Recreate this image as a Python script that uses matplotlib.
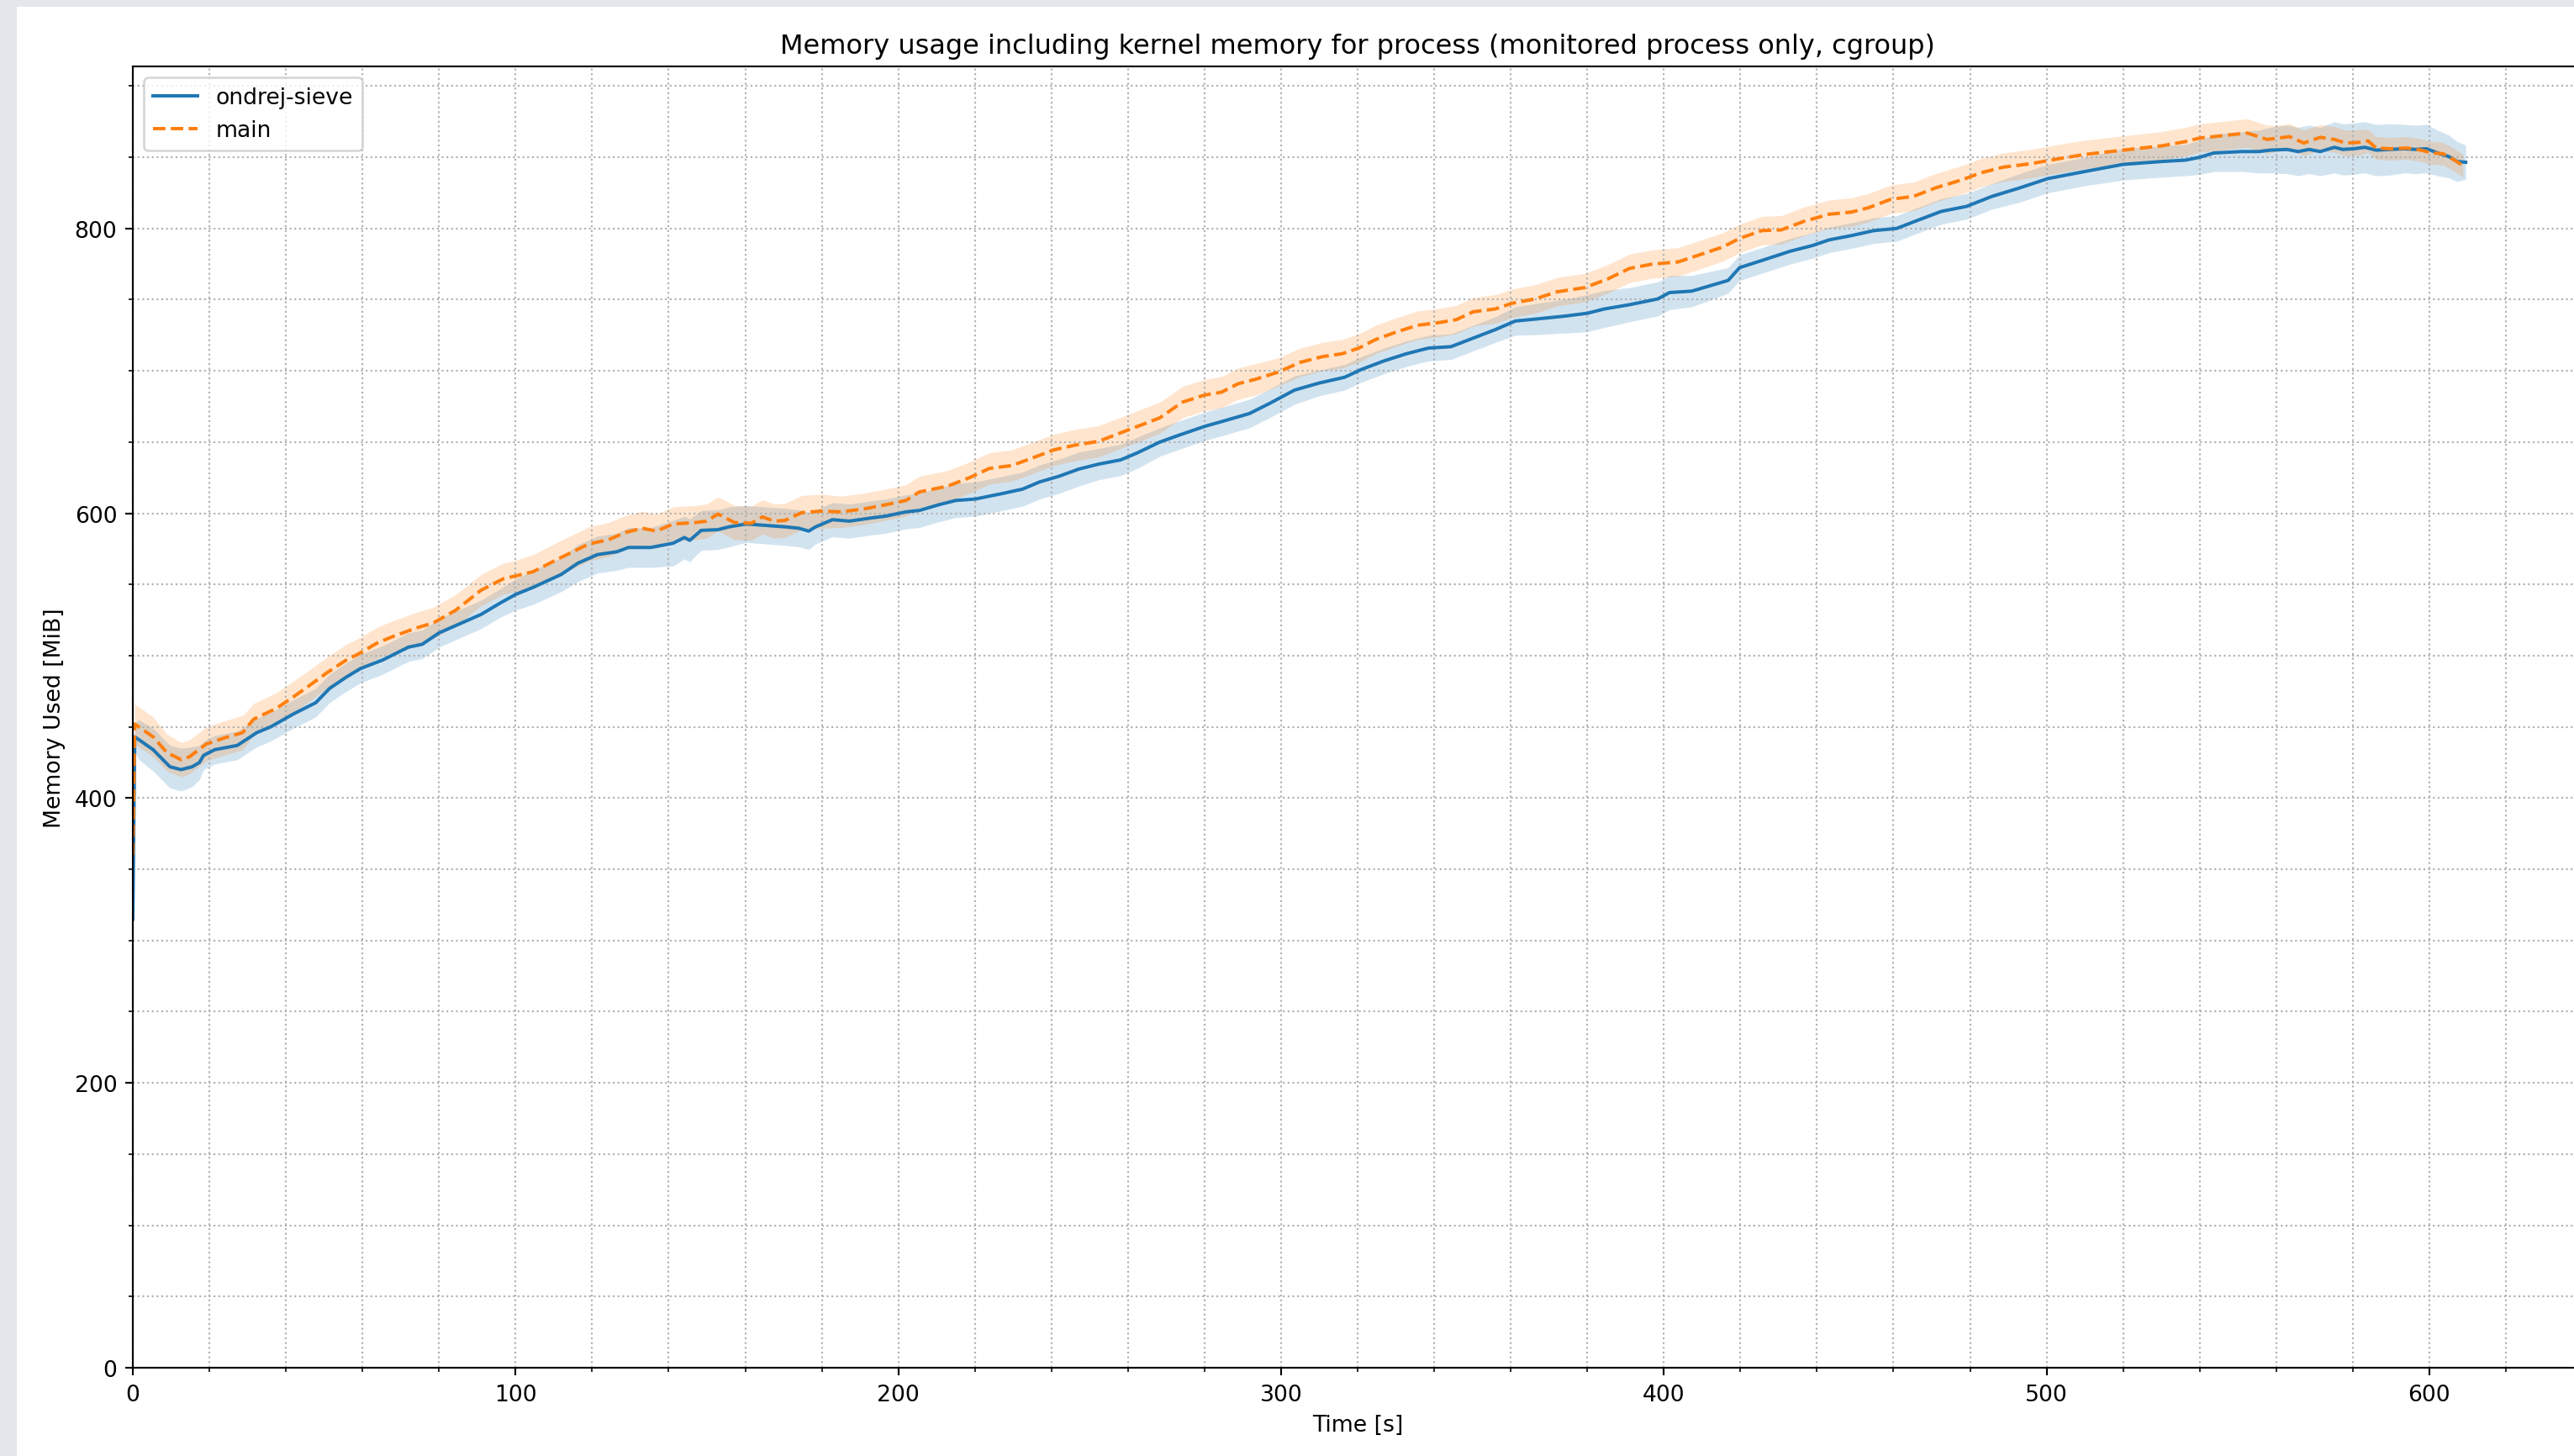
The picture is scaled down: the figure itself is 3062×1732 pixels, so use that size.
import matplotlib.pyplot as plt
from matplotlib.patches import Rectangle

# ondrej-sieve (mean and half width of the shaded band)
sieve_t = [0, 0.5, 1.6, 5.3, 9.7, 12.6, 15.5, 17.4, 18.5, 21.4,
           27.3, 32.4, 36, 41.9, 47.8, 51.4, 55.8, 59.5, 65.3, 72,
           75.6, 80, 85.9, 91, 96, 100, 104.6, 111.9, 116.3, 121.4,
           126.5, 129.5, 135.3, 141.2, 144.1, 145.5, 148.5, 152.9, 155.8, 160.2,
           165.3, 170.4, 174, 176.6, 178.4, 182.8, 187.2, 192.3, 196.7, 202,
           205.5, 210.6, 215, 220.1, 227.4, 232.5, 236.9, 242, 247.1, 252.3,
           258.1, 262.5, 268.3, 273.5, 280, 285.9, 291.7, 296.9, 303.5, 310,
           316.6, 321, 326.9, 332.7, 338.5, 344.4, 350.2, 356, 361.2, 367,
           374.3, 380.1, 384.5, 391.1, 398.4, 401.5, 407.3, 412.4, 416.8, 419.8,
           425.6, 433, 438.8, 443.2, 449, 454.9, 460.8, 466.6, 472.5, 479.1,
           485.7, 493, 500.3, 510, 520, 530, 536.3, 540, 543.7, 551,
           555.4, 558.4, 562.8, 565.7, 568.6, 571.5, 575.2, 577.4, 580.3, 583.2,
           586.1, 589.8, 593.4, 596.4, 599.3, 602.2, 605.1, 607.3, 609.5]
sieve_mem = [315, 443, 441, 434, 422, 420, 422, 425, 430, 434,
             437, 446, 450, 459, 467, 477, 485, 491, 497, 506,
             508, 516, 523, 529, 537, 543, 548, 557, 565, 571,
             573, 576, 576, 579, 583, 581, 588, 588.5, 590.5, 592.5,
             591.5, 590.5, 589.5, 587.5, 590.5, 595.5, 594.5, 596.5, 598, 601,
             602, 606, 609, 610, 614, 617, 622, 626, 631, 634.5,
             637.5, 642.5, 650, 655, 661, 665.5, 670, 677, 686.5, 691.5,
             695.5, 701, 707, 712, 716, 717, 723, 729, 735, 736.5,
             738.5, 740.5, 743.5, 746.5, 750.5, 755, 756, 760, 763.5, 772.5,
             777.5, 784, 788, 792, 795, 798.5, 800, 806, 812, 815.5,
             822.5, 828.5, 835, 840, 845, 847, 848, 850, 853, 854,
             854, 855, 855.5, 854, 855.5, 854, 857, 855.5, 856, 857,
             855, 855.5, 856, 855.5, 856, 853, 850.5, 847, 846.5]
sieve_spread = [5, 10, 14, 15, 15, 15, 14, 12, 10, 10,
                10, 10, 10, 10, 10, 10, 10, 10, 10, 10,
                10, 10, 10, 10, 10, 11, 12, 12, 13, 13,
                13, 14, 14, 16, 15, 15, 14, 14, 14, 13,
                13, 13, 13, 13, 12, 12, 12, 12, 12, 12,
                12, 12, 12, 12, 12, 12, 12, 12, 12, 11,
                11, 11, 10, 10, 10, 10, 10, 10, 10, 9,
                9, 9, 9, 9, 9, 9, 9, 9, 10, 11,
                12, 13, 13, 12, 12, 12, 11, 10, 9, 9,
                9, 9, 9, 9, 9, 9, 9, 9, 9, 9,
                9, 10, 10, 10, 11, 11, 11, 12, 13, 14,
                15, 16, 17, 17, 17, 17, 18, 18, 18, 18,
                18, 18, 17, 17, 17, 16, 15, 14, 12]

# main
main_t = [0, 0.5, 5.3, 8.9, 12.6, 14.8, 19.2, 23.6, 28.7, 31.6,
          37.5, 41.9, 45.6, 50.7, 55.8, 58.8, 63.9, 67.5, 74.1, 78.5,
          84.4, 91, 96.8, 100, 104.6, 111.9, 119.2, 124.3, 128.7, 133.1,
          136.8, 141.2, 147, 149.9, 152.9, 157.2, 161.6, 164.5, 167.5, 170.4,
          174.8, 179.9, 185, 190.9, 196.7, 202, 205.5, 212.8, 218.6, 223.8,
          229.6, 234.7, 240.6, 246.4, 252.3, 258.1, 262.5, 268.3, 274.2, 280,
          284.4, 288.8, 293.2, 299.1, 305, 310.8, 315.9, 320.3, 324.7, 329.8,
          335.6, 341.5, 345.8, 350.2, 356, 360.4, 366.3, 372.1, 379.4, 385.3,
          391.1, 397, 403.7, 408.8, 415.4, 419.8, 425.6, 430.7, 436.6, 443.2,
          449, 453.4, 459.3, 465.2, 471, 478.3, 482.7, 488.6, 495.9, 503.2,
          510, 520, 530, 536.3, 540, 543.7, 548.8, 552.5, 557.6, 560.6,
          563.5, 567.2, 571.5, 575.2, 578.1, 581.8, 584, 586.1, 589.8, 594.2,
          597.8, 600.8, 603.6, 606.6, 608.8]
main_mem = [360, 452, 443, 432, 427, 429, 438, 442, 446, 455.5,
            463, 471, 478, 488, 497, 501, 509, 513, 519.5, 523,
            532, 546, 554, 556, 559, 569, 578.5, 581.5, 586.5, 589.5,
            587.5, 592.5, 593.5, 594.5, 599.5, 593.5, 593, 597.5, 594.5, 595,
            600.5, 601.5, 601, 603, 606, 609, 615, 619, 625, 631.5,
            633.5, 638.5, 644.5, 648, 650.5, 656.5, 661, 667, 678, 683,
            685, 691, 694, 699, 706, 710, 712, 716, 722, 727,
            732, 734, 736, 741.5, 743.5, 747.5, 750.5, 755.5, 758.5, 764.5,
            772, 775, 776.5, 781, 787, 793, 798.5, 799, 805, 810,
            811.5, 814.5, 820.5, 822.5, 828.5, 834.5, 839, 843, 845.5, 849,
            852, 855, 858, 861, 863.5, 864.5, 866, 867, 862.5, 863.5,
            864.5, 860, 864, 862.5, 860, 860.5, 861.5, 856.5, 856, 856.5,
            855, 853, 852.5, 848, 844]
main_spread = [5, 14, 14, 13, 12, 12, 12, 12, 12, 11,
               11, 11, 11, 11, 11, 11, 11, 11, 11, 11,
               11, 11, 11, 11, 12, 12, 12, 12, 12, 12,
               12, 12, 12, 12, 12, 12, 12, 12, 12, 12,
               12, 12, 11, 11, 11, 11, 11, 11, 11, 11,
               11, 11, 11, 11, 11, 11, 11, 11, 11, 11,
               11, 11, 11, 10, 10, 10, 10, 10, 10, 10,
               10, 10, 10, 10, 10, 10, 10, 10, 10, 10,
               10, 10, 10, 10, 10, 10, 10, 10, 10, 10,
               10, 10, 10, 10, 10, 10, 10, 10, 10, 10,
               10, 10, 10, 10, 10, 10, 10, 10, 10, 9,
               9, 9, 9, 9, 9, 9, 8, 8, 8, 8,
               8, 8, 8, 8, 8]

# the screenshot is a default matplotlib figure scaled ~0.96 relative to 200 dpi
k = 0.96
plt.rcParams.update({
    'font.size': 10 * k,
    'lines.linewidth': 1.5 * k,
    'axes.linewidth': 0.8 * k,
    'grid.linewidth': 0.8 * k,
    'patch.linewidth': 1.0 * k,
    'axes.titlepad': 6 * k,
    'axes.labelpad': 4 * k,
    'xtick.major.size': 3.5 * k, 'ytick.major.size': 3.5 * k,
    'xtick.minor.size': 2 * k, 'ytick.minor.size': 2 * k,
    'xtick.major.width': 0.8 * k, 'ytick.major.width': 0.8 * k,
    'xtick.minor.width': 0.6 * k, 'ytick.minor.width': 0.6 * k,
    'xtick.major.pad': 3.5 * k, 'ytick.major.pad': 3.5 * k,
})

W, H, DPI = 3062, 1733, 200
fig = plt.figure(figsize=(W / DPI, H / DPI), dpi=DPI)
# the screenshot cuts the axes off on the right
ax = fig.add_axes([158 / W, 105 / H, 2914 / W, 1548 / H])

sieve_lo = [m - s for m, s in zip(sieve_mem, sieve_spread)]
sieve_hi = [m + s for m, s in zip(sieve_mem, sieve_spread)]
main_lo = [m - s for m, s in zip(main_mem, main_spread)]
main_hi = [m + s for m, s in zip(main_mem, main_spread)]

ax.fill_between(sieve_t, sieve_lo, sieve_hi, color='C0', alpha=0.2, linewidth=0)
ax.fill_between(main_t, main_lo, main_hi, color='C1', alpha=0.2, linewidth=0)
ax.plot(sieve_t, sieve_mem, color='C0', linestyle='-', label='ondrej-sieve')
ax.plot(main_t, main_mem, color='C1', linestyle='--', label='main')

ax.set_xlim(0, 640)
ax.set_ylim(0, 913.8)
ax.minorticks_on()
ax.grid(True, which='both', linestyle=':')
ax.set_title('Memory usage including kernel memory for process (monitored process only, cgroup)')
ax.set_xlabel('Time [s]')
ax.set_ylabel('Memory Used [MiB]')
ax.legend(loc='upper left')

# grey strips of the screenshot border
fig.add_artist(Rectangle((0, 0), 20 / W, 1, transform=fig.transFigure,
                         color='#e3e7eb', linewidth=0))
fig.add_artist(Rectangle((0, 1 - 9 / H), 1, 9 / H, transform=fig.transFigure,
                         color='#e3e7eb', linewidth=0))

fig.savefig('out.png', dpi=DPI)
